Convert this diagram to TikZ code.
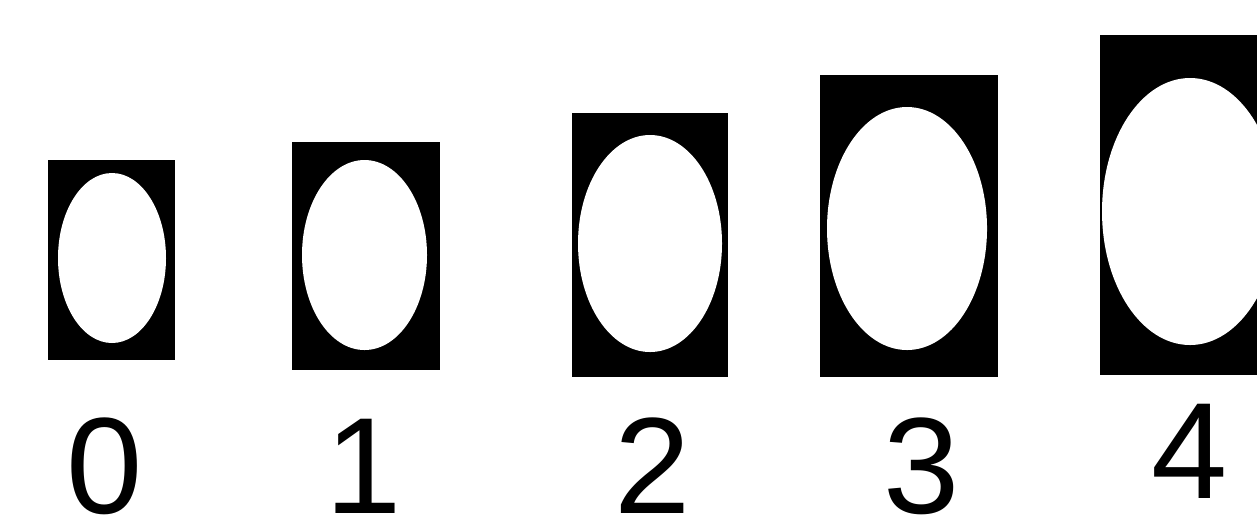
\documentclass[tikz,border=0pt]{standalone}
\usepackage{fontspec}
\setmainfont{Liberation Sans}
\usetikzlibrary{shapes.geometric}
\begin{document}
\begin{tikzpicture}[
    frame/.style={rectangle, fill=black, inner sep=0pt},
    hole/.style={ellipse, fill=white, inner sep=0pt},
    grade/.style={inner sep=0pt, anchor=base, font=\fontsize{39}{39}\selectfont}
]
\clip (0,0) rectangle (12.57,5.24);
\fill[white] (0,0) rectangle (12.57,5.24);
\node[frame, minimum width=1.27cm, minimum height=2.00cm] (f0) at (1.115,2.64) {};
\node[hole, minimum width=1.08cm, minimum height=1.70cm] (e0) at (1.12,2.66) {};
\node[grade] (g0) at (1.05,0.11) {0};
\node[frame, minimum width=1.48cm, minimum height=2.28cm] (f1) at (3.66,2.68) {};
\node[hole, minimum width=1.25cm, minimum height=1.90cm] (e1) at (3.645,2.69) {};
\node[grade] (g1) at (3.64,0.11) {1};
\node[frame, minimum width=1.56cm, minimum height=2.64cm] (f2) at (6.50,2.79) {};
\node[hole, minimum width=1.44cm, minimum height=2.17cm] (e2) at (6.50,2.805) {};
\node[grade] (g2) at (6.53,0.11) {2};
\node[frame, minimum width=1.78cm, minimum height=3.02cm] (f3) at (9.09,2.98) {};
\node[hole, minimum width=1.60cm, minimum height=2.43cm] (e3) at (9.07,2.955) {};
\node[grade] (g3) at (9.22,0.11) {3};
\node[frame, minimum width=1.95cm, minimum height=3.40cm] (f4) at (11.975,3.19) {};
\node[hole, minimum width=1.76cm, minimum height=2.67cm] (e4) at (11.90,3.125) {};
\node[grade] (g4) at (11.90,0.26) {4};
\end{tikzpicture}
\end{document}
